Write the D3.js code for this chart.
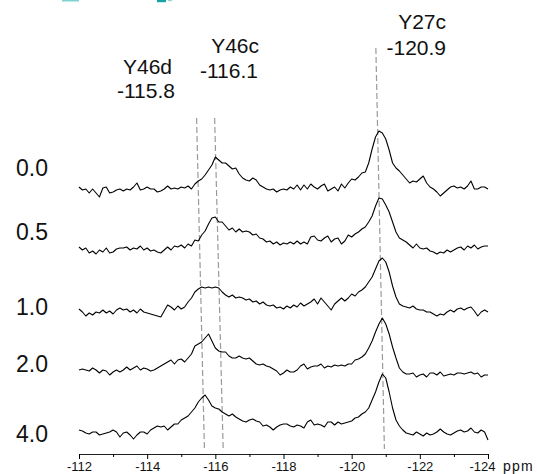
<!DOCTYPE html>
<html lang="en">
<head>
    <meta charset="UTF-8">
    <title>19F NMR titration</title>
    <script src="https://d3js.org/d3.v7.min.js"></script>
    <style>
        body { margin: 0; background: #fff; }
        text { font-family: "Liberation Sans", Arial, sans-serif; fill: #111; }
    </style>
</head>
<body>
    <svg id="chart" width="537" height="474"></svg>

    <script>
        // chemical shift grid of every trace (ppm), one point per 0.1 ppm
        const ppmFrom = -112;
        const ppmTo = -124;
        const ppm = d3.range(121).map(i => ppmFrom - i * 0.1);

        // row labels (equivalents) from top to bottom
        const rowLabels = ["0.0", "0.5", "1.0", "2.0", "4.0"];

        // intensities (a.u. above each baseline)
        const trace00 = [2,-1,0,-4,0,-4,-8,1,2,-4, -3,-1,0,-2,0,-1,2,6,-1,0, 2,0,0,-3,-2,0,3,0,1,0,
            2,1,3,0,5,8,10,14,19,24, 32,29,26,26,23,20,21,15,11,9, 8,11,9,4,2,0,-1,0,-3,-1,
            0,-1,2,0,4,-1,4,0,5,2, 0,3,5,-2,0,2,-2,5,1,6, 10,9,12,16,17,26,40,52,58,56,
            50,39,26,21,18,14,10,6,8,7, 10,13,6,2,0,-3,-7,-4,-1,2, 3,1,2,0,3,8,0,0,2,2, 0];
        const trace05 = [2,-1,1,-4,-2,-5,-1,-3,1,-4, -3,0,1,1,2,-1,1,0,3,-1, 1,-2,-1,-3,-4,-1,2,-1,3,2,
            4,1,5,3,9,8,14,18,25,31, 32,27,27,23,19,21,17,20,17,18, 17,14,15,11,10,7,8,5,7,4,
            6,5,7,5,8,5,7,5,12,13, 9,8,11,13,7,10,11,5,8,14, 12,15,17,20,22,27,33,43,51,50,
            44,37,27,17,11,9,7,4,1,5, 1,0,1,-2,-3,-5,-3,-4,-1,-3, -1,1,2,-1,3,1,4,0,2,3, 3];
        const trace10 = [4,1,-3,0,-2,1,0,3,0,2, -1,3,5,3,4,1,3,0,4,1, 0,-1,-2,-3,-4,2,8,6,3,7,
            4,6,11,15,21,24,26,25,26,25, 26,25,21,18,16,18,15,16,15,13, 14,11,12,9,11,8,7,8,5,6,
            4,7,5,8,6,10,7,9,11,14, 9,15,11,7,3,9,12,15,12,15, 19,17,21,23,26,31,36,44,52,55,
            51,41,27,16,9,7,6,5,7,4, 3,3,1,1,-1,-3,-1,-2,1,3, 1,4,5,3,5,6,2,-3,1,3, 1];
        const trace20 = [2,3,2,1,4,2,-1,2,1,-3, 0,2,0,2,5,2,4,6,2,4, 3,1,2,4,6,8,10,12,8,12,
            13,10,14,18,26,28,30,34,38,31, 24,21,20,20,16,14,14,16,14,13, 14,11,8,7,8,6,5,3,1,-3,
            -1,2,0,0,2,6,8,3,5,6, 6,8,4,6,5,7,6,7,6,8, 8,12,13,15,18,24,31,40,48,54,
            48,38,25,14,4,0,-2,-2,-1,-5, -3,-2,-5,-1,-1,-3,0,-4,-3,-2, -3,-1,-1,-2,-1,0,-2,-1,-5,-3, -3];
        const trace40 = [3,2,0,-1,1,1,-2,-1,0,1, 3,1,-4,0,1,-2,-6,-2,1,1, -1,3,5,7,6,7,3,6,9,9,
            13,15,17,21,25,31,35,38,33,27, 25,24,21,19,17,19,16,14,12,11, 13,14,12,11,7,8,6,3,6,8,
            9,9,7,6,8,7,5,11,13,8, 9,8,6,11,11,8,11,9,10,11, 12,15,16,19,21,25,33,41,51,59,
            55,41,25,13,7,3,0,-1,-2,1, -1,-3,0,-2,-1,1,4,1,-1,-2, 0,2,3,1,2,5,1,0,3,1, -7];
        const traces = [trace00, trace05, trace10, trace20, trace40];

        // vertical stacking offset of each trace (a.u.)
        const offsets = [244, 184, 120, 61, 0];

        // assigned peaks: names, shifts and the guide line ends (ppm)
        const peakNames = ["Y46d", "Y46c", "Y27c"];
        const peakShifts = ["-115.8", "-116.1", "-120.9"];
        const guideTopPpm = [-115.45, -115.98, -120.71];
        const guideBottomPpm = [-115.68, -116.23, -120.96];

        // axis ticks
        const majorTicks = [-112, -114, -116, -118, -120, -122, -124];
        const minorTicks = [-113, -115, -117, -119, -121, -123];

        // ---- layout ----
        const svg = d3.select("#chart");
        const axisY = 454;
        const rowLabelY = [176, 240, 315, 372, 442];
        const guideTopY = [118, 118, 48];
        const guideBottomY = 449;
        const nameEnd = [[172, 175], [259, 258], [446, 446]];
        const nameY = [[74, 98], [53, 78], [29, 55]];

        const x = d3.scaleLinear().domain([ppmFrom, ppmTo]).range([79, 488]);
        const y = d3.scaleLinear().domain([0, 400]).range([433, 33]);

        // cut-off remnants at the very top edge
        svg.append("rect").attr("x", 62).attr("y", 0).attr("width", 17).attr("height", 1.5).attr("fill", "#7fd4d2");
        svg.append("rect").attr("x", 157).attr("y", 0).attr("width", 9).attr("height", 2.2).attr("fill", "#12a5a4");
        svg.append("rect").attr("x", 168).attr("y", 0).attr("width", 4).attr("height", 1.2).attr("fill", "#8fd8d6");

        // dashed guide lines
        svg.append("g").selectAll("line")
            .data(peakNames)
            .join("line")
            .attr("x1", (d, i) => x(guideTopPpm[i]))
            .attr("y1", (d, i) => guideTopY[i])
            .attr("x2", (d, i) => x(guideBottomPpm[i]))
            .attr("y2", guideBottomY)
            .attr("stroke", "#9a9a9a")
            .attr("stroke-width", 1.2)
            .attr("stroke-dasharray", "6,3");

        // spectra
        const line = d3.line()
            .x((d, i) => x(ppm[i]))
            .y(d => d);

        svg.append("g").selectAll("path")
            .data(traces)
            .join("path")
            .attr("d", (t, j) => line(t.map(v => y(offsets[j] + v))))
            .attr("fill", "none")
            .attr("stroke", "#000")
            .attr("stroke-width", 1.1)
            .attr("stroke-linejoin", "round");

        // row labels
        svg.append("g").selectAll("text")
            .data(rowLabels)
            .join("text")
            .attr("x", 48)
            .attr("y", (d, i) => rowLabelY[i])
            .attr("text-anchor", "end")
            .attr("font-size", 23)
            .text(d => d);

        // peak names and shifts
        const names = svg.append("g").selectAll("g")
            .data(peakNames)
            .join("g");
        names.append("text")
            .attr("x", (d, i) => nameEnd[i][0])
            .attr("y", (d, i) => nameY[i][0])
            .attr("text-anchor", "end")
            .attr("font-size", 21)
            .text(d => d);
        names.append("text")
            .attr("x", (d, i) => nameEnd[i][1])
            .attr("y", (d, i) => nameY[i][1])
            .attr("text-anchor", "end")
            .attr("font-size", 21)
            .text((d, i) => peakShifts[i]);

        // x axis
        const axis = svg.append("g")
            .attr("transform", "translate(0," + axisY + ")")
            .call(d3.axisBottom(x).tickValues(majorTicks).tickSize(5).tickSizeOuter(0)
                .tickFormat(d => String(d)));
        axis.selectAll("text")
            .attr("font-size", 13)
            .style("font-family", "Liberation Sans, Arial, sans-serif")
            .attr("fill", "#111")
            .attr("dx", d => d === ppmTo ? -6 : 0);
        axis.select(".domain").attr("stroke", "#222");

        svg.append("g")
            .attr("transform", "translate(0," + axisY + ")")
            .call(d3.axisBottom(x).tickValues(minorTicks).tickSize(3).tickFormat(""))
            .select(".domain").remove();

        svg.append("text")
            .attr("x", 503)
            .attr("y", 471)
            .attr("font-size", 14)
            .attr("letter-spacing", 1.2)
            .text("ppm");
    </script>
</body>
</html>
